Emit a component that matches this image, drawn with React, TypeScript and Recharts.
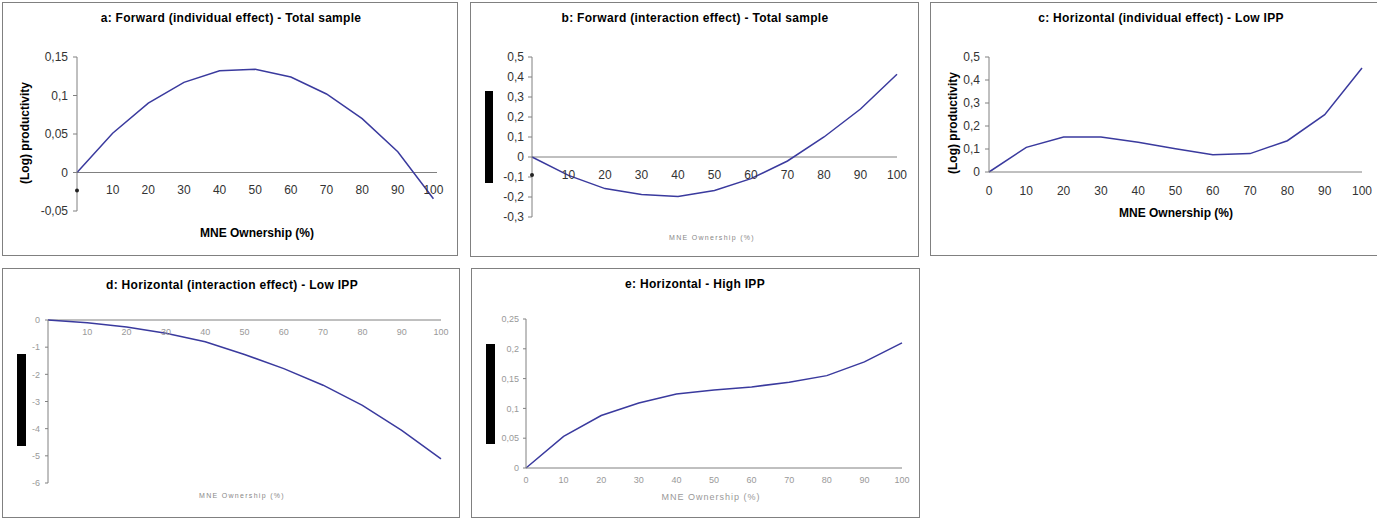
import React from 'react';
import { LineChart, Line, XAxis, YAxis, ReferenceLine, ReferenceDot } from 'recharts';

const ownership = [0, 10, 20, 30, 40, 50, 60, 70, 80, 90, 100];
const forwardIndividual = [0, 0.051, 0.09, 0.117, 0.132, 0.134, 0.124, 0.102, 0.07, 0.027, -0.034];
const forwardInteraction = [0, -0.092, -0.158, -0.188, -0.197, -0.167, -0.108, -0.02, 0.1, 0.24, 0.414];
const horizontalIndividualLow = [0, 0.107, 0.152, 0.152, 0.129, 0.101, 0.075, 0.08, 0.136, 0.249, 0.452];
const horizontalInteractionLow = [0, -0.1, -0.26, -0.49, -0.8, -1.27, -1.79, -2.4, -3.14, -4.06, -5.11];
const horizontalHigh = [0, 0.053, 0.088, 0.109, 0.124, 0.131, 0.136, 0.144, 0.155, 0.178, 0.21];

const xTicks = [0, 10, 20, 30, 40, 50, 60, 70, 80, 90, 100];
const xTicksD = [10, 20, 30, 40, 50, 60, 70, 80, 90, 100];
const yTicksA = [-0.05, 0, 0.05, 0.1, 0.15];
const yTicksB = [-0.3, -0.2, -0.1, 0, 0.1, 0.2, 0.3, 0.4, 0.5];
const yTicksC = [0, 0.1, 0.2, 0.3, 0.4, 0.5];
const yTicksD = [-6, -5, -4, -3, -2, -1, 0];
const yTicksE = [0, 0.05, 0.1, 0.15, 0.2, 0.25];

const titles = [
  'a: Forward (individual effect) - Total sample',
  'b: Forward (interaction effect) - Total sample',
  'c: Horizontal (individual effect) - Low IPP',
  'd: Horizontal (interaction effect) - Low IPP',
  'e: Horizontal - High IPP',
];
const yTitle = '(Log) productivity';
const xTitle = 'MNE Ownership (%)';

const rows = ownership.map((x, i) => ({
  x,
  a: forwardIndividual[i],
  b: forwardInteraction[i],
  c: horizontalIndividualLow[i],
  d: horizontalInteractionLow[i],
  e: horizontalHigh[i],
}));

const FONT = '"Liberation Sans", Arial, Helvetica, sans-serif';
const LINE = '#3a3a9e';
const AXIS = '#808080';
const fmt = (v: number) => String(v).replace('.', ',');

const Box = ({ left, top, width, height }: any) => (
  <div style={{ position: 'absolute', left, top, width, height, border: `1px solid ${AXIS}`, boxSizing: 'border-box' }} />
);

const Txt = ({ cx, cy, children, size = 11, bold = false, color = '#000', rotate = false, spacing = 0 }: any) => (
  <div
    style={{
      position: 'absolute',
      left: cx,
      top: cy,
      transform: `translate(-50%, -50%)${rotate ? ' rotate(-90deg)' : ''}`,
      whiteSpace: 'nowrap',
      fontFamily: FONT,
      fontSize: size,
      fontWeight: bold ? 700 : 400,
      color,
      letterSpacing: spacing,
      lineHeight: 1,
    }}
  >
    {children}
  </div>
);

const Bar = ({ left, top, width, height }: any) => (
  <div style={{ position: 'absolute', left, top, width, height, background: '#000' }} />
);

const ZeroDot = (props: any) => {
  const vb = props.viewBox || {};
  return <circle cx={vb.x} cy={(vb.y || 0) + 18} r={2} fill="#222" />;
};

const tickLabels = (ticks: number[], offset: number, size: number, color: string, dotZero: boolean) =>
  ticks.map((t) => (
    <ReferenceDot
      key={`t${t}`}
      x={t}
      y={0}
      r={0}
      stroke="none"
      fill="none"
      label={
        dotZero && t === 0
          ? { content: ZeroDot }
          : { value: String(t), position: 'bottom', offset, fill: color, fontSize: size, fontFamily: FONT }
      }
    />
  ));

const TITLE_SIZE = 12;
const TITLE_SPACING = 0.3;

export default function App() {
  return (
    <div style={{ position: 'absolute', left: 0, top: 0, width: 1377, height: 518, overflow: 'hidden', background: '#fff' }}>
      {/* Panel a */}
      <Box left={2} top={2} width={456} height={254} />
      <div style={{ position: 'absolute', left: 2, top: 2 }}>
        <LineChart width={456} height={254} data={rows} margin={{ top: 55, right: 21, bottom: 45, left: 0 }}>
          <XAxis type="number" dataKey="x" domain={[0, 101]} hide />
          <YAxis
            type="number"
            domain={[-0.05, 0.15]}
            ticks={yTicksA}
            interval={0}
            tickFormatter={fmt}
            width={75}
            stroke={AXIS}
            tickSize={4}
            tickMargin={5}
            tick={{ fill: '#333', fontSize: 12, fontFamily: FONT }}
          />
          <ReferenceLine y={0} stroke={AXIS} />
          {tickLabels(xTicks, 13, 12, '#333', true)}
          <Line type="linear" dataKey="a" stroke={LINE} strokeWidth={1.5} dot={false} isAnimationActive={false} />
        </LineChart>
      </div>
      <Txt cx={231} cy={18} bold size={TITLE_SIZE} spacing={TITLE_SPACING}>{titles[0]}</Txt>
      <Txt cx={25} cy={133} bold size={12} rotate>{yTitle}</Txt>
      <Txt cx={257} cy={233} bold size={12}>{xTitle}</Txt>

      {/* Panel b */}
      <Box left={470} top={2} width={449} height={255} />
      <div style={{ position: 'absolute', left: 470, top: 2 }}>
        <LineChart width={449} height={255} data={rows} margin={{ top: 55, right: 22, bottom: 40, left: 0 }}>
          <XAxis type="number" dataKey="x" domain={[0, 100]} hide />
          <YAxis
            type="number"
            domain={[-0.3, 0.5]}
            ticks={yTicksB}
            interval={0}
            tickFormatter={fmt}
            width={62}
            stroke={AXIS}
            tickSize={4}
            tickMargin={4}
            tick={{ fill: '#333', fontSize: 12, fontFamily: FONT }}
          />
          <ReferenceLine y={0} stroke={AXIS} />
          {tickLabels(xTicks, 13, 12, '#333', true)}
          <Line type="linear" dataKey="b" stroke={LINE} strokeWidth={1.5} dot={false} isAnimationActive={false} />
        </LineChart>
      </div>
      <Bar left={485} top={91} width={8} height={92} />
      <Txt cx={695} cy={18} bold size={TITLE_SIZE} spacing={TITLE_SPACING}>{titles[1]}</Txt>
      <Txt cx={712} cy={237} size={7} color="#888" spacing={1.3}>{xTitle}</Txt>

      {/* Panel c */}
      <Box left={930} top={2} width={448} height={254} />
      <div style={{ position: 'absolute', left: 930, top: 2 }}>
        <LineChart width={448} height={254} data={rows} margin={{ top: 55, right: 16, bottom: 54, left: 0 }}>
          <XAxis
            type="number"
            dataKey="x"
            domain={[0, 100]}
            ticks={xTicks}
            interval={0}
            height={30}
            stroke={AXIS}
            tickLine={false}
            tickSize={0}
            tickMargin={14}
            tick={{ fill: '#333', fontSize: 12, fontFamily: FONT }}
          />
          <YAxis
            type="number"
            domain={[0, 0.5]}
            ticks={yTicksC}
            interval={0}
            tickFormatter={fmt}
            width={59}
            stroke={AXIS}
            tickSize={4}
            tickMargin={5}
            tick={{ fill: '#333', fontSize: 12, fontFamily: FONT }}
          />
          <Line type="linear" dataKey="c" stroke={LINE} strokeWidth={1.5} dot={false} isAnimationActive={false} />
        </LineChart>
      </div>
      <Txt cx={1161} cy={18} bold size={TITLE_SIZE} spacing={TITLE_SPACING}>{titles[2]}</Txt>
      <Txt cx={953} cy={123} bold size={12} rotate>{yTitle}</Txt>
      <Txt cx={1176} cy={213} bold size={12}>{xTitle}</Txt>

      {/* Panel d */}
      <Box left={2} top={268} width={458} height={250} />
      <div style={{ position: 'absolute', left: 2, top: 268 }}>
        <LineChart width={458} height={250} data={rows} margin={{ top: 52, right: 19, bottom: 35, left: 0 }}>
          <XAxis type="number" dataKey="x" domain={[0, 100]} hide />
          <YAxis
            type="number"
            domain={[-6, 0]}
            ticks={yTicksD}
            interval={0}
            width={46}
            stroke={AXIS}
            tickSize={3}
            tickMargin={5}
            tick={{ fill: '#999', fontSize: 9, fontFamily: FONT }}
          />
          <ReferenceLine y={0} stroke={AXIS} />
          {tickLabels(xTicksD, 9, 9, '#999', false)}
          <Line type="linear" dataKey="d" stroke={LINE} strokeWidth={1.5} dot={false} isAnimationActive={false} />
        </LineChart>
      </div>
      <Bar left={17} top={354} width={9} height={92} />
      <Txt cx={232} cy={285} bold size={TITLE_SIZE} spacing={TITLE_SPACING}>{titles[3]}</Txt>
      <Txt cx={242} cy={495} size={7} color="#888" spacing={1.3}>{xTitle}</Txt>

      {/* Panel e */}
      <Box left={471} top={268} width={449} height={250} />
      <div style={{ position: 'absolute', left: 471, top: 268 }}>
        <LineChart width={449} height={250} data={rows} margin={{ top: 51, right: 18, bottom: 30, left: 0 }}>
          <XAxis
            type="number"
            dataKey="x"
            domain={[0, 100]}
            ticks={xTicks}
            interval={0}
            height={20}
            stroke={AXIS}
            tickLine={false}
            tickSize={0}
            tickMargin={9}
            tick={{ fill: '#999', fontSize: 9, fontFamily: FONT }}
          />
          <YAxis
            type="number"
            domain={[0, 0.25]}
            ticks={yTicksE}
            interval={0}
            tickFormatter={fmt}
            width={55}
            stroke={AXIS}
            tickSize={3}
            tickMargin={4}
            tick={{ fill: '#999', fontSize: 9, fontFamily: FONT }}
          />
          <Line type="linear" dataKey="e" stroke={LINE} strokeWidth={1.5} dot={false} isAnimationActive={false} />
        </LineChart>
      </div>
      <Bar left={486} top={344} width={9} height={100} />
      <Txt cx={695} cy={284} bold size={TITLE_SIZE} spacing={TITLE_SPACING}>{titles[4]}</Txt>
      <Txt cx={711} cy={497} size={9} color="#999" spacing={1}>{xTitle}</Txt>
    </div>
  );
}
